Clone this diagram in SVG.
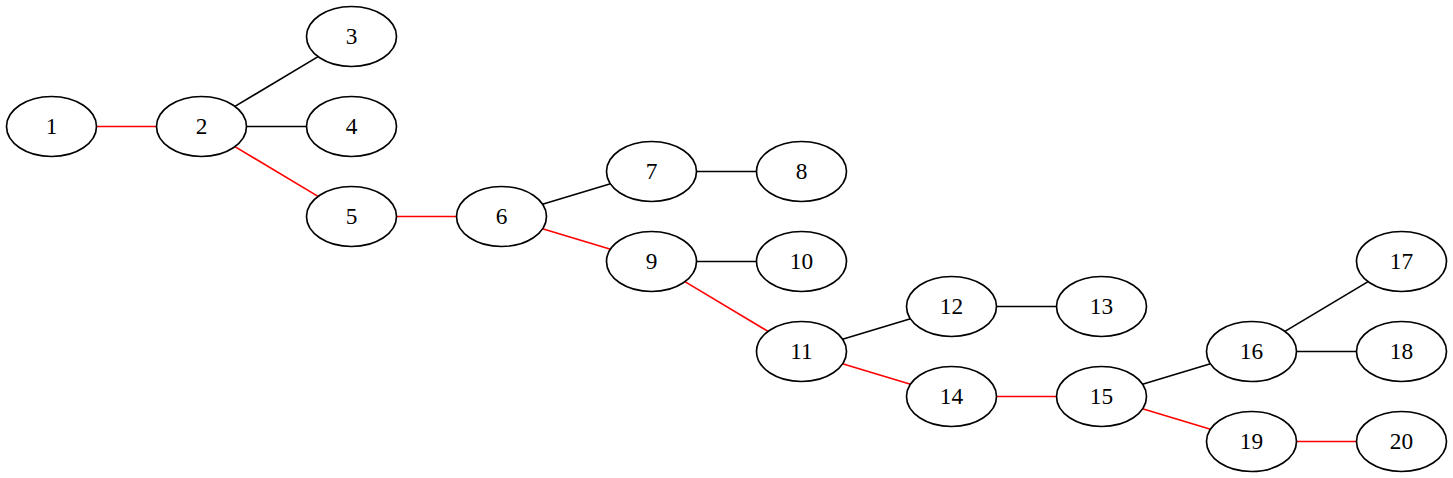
<svg xmlns="http://www.w3.org/2000/svg" width="1453" height="478" viewBox="0 0 1453 478">
<style>
.n ellipse{fill:none;stroke:#000;stroke-width:1.67}
.n text{font-family:"Liberation Serif","Times New Roman",serif;font-size:23.3px;text-anchor:middle;fill:#000}
#edges line{stroke-width:1.67}
.r{stroke:#ff0000}
.b{stroke:#000}
</style>
<rect width="1453" height="478" fill="#fff"/>
<g id="edges">
<line class="r" x1="96.5" y1="126.5" x2="156.5" y2="126.5"/>
<line class="b" x1="234.9" y1="106.4" x2="318.1" y2="56.6"/>
<line class="b" x1="246.5" y1="126.5" x2="306.5" y2="126.5"/>
<line class="r" x1="234.9" y1="146.6" x2="318.1" y2="196.4"/>
<line class="r" x1="396.5" y1="216.5" x2="456.5" y2="216.5"/>
<line class="b" x1="542.5" y1="204.2" x2="610.5" y2="183.8"/>
<line class="r" x1="542.5" y1="228.8" x2="610.5" y2="249.2"/>
<line class="b" x1="696.5" y1="171.5" x2="756.5" y2="171.5"/>
<line class="b" x1="696.5" y1="261.5" x2="756.5" y2="261.5"/>
<line class="r" x1="684.9" y1="281.6" x2="768.1" y2="331.4"/>
<line class="b" x1="842.5" y1="339.2" x2="910.5" y2="318.8"/>
<line class="r" x1="842.5" y1="363.8" x2="910.5" y2="384.2"/>
<line class="b" x1="996.5" y1="306.5" x2="1056.5" y2="306.5"/>
<line class="r" x1="996.5" y1="396.5" x2="1056.5" y2="396.5"/>
<line class="b" x1="1142.5" y1="384.2" x2="1210.5" y2="363.8"/>
<line class="r" x1="1142.5" y1="408.8" x2="1210.5" y2="429.2"/>
<line class="b" x1="1284.9" y1="331.4" x2="1368.1" y2="281.6"/>
<line class="b" x1="1296.5" y1="351.5" x2="1356.5" y2="351.5"/>
<line class="r" x1="1296.5" y1="441.5" x2="1356.5" y2="441.5"/>
</g>
<g id="n1" class="n"><ellipse cx="51.5" cy="126.5" rx="45" ry="30"/><text x="51.5" y="133.5">1</text></g>
<g id="n2" class="n"><ellipse cx="201.5" cy="126.5" rx="45" ry="30"/><text x="201.5" y="133.5">2</text></g>
<g id="n3" class="n"><ellipse cx="351.5" cy="36.5" rx="45" ry="30"/><text x="351.5" y="43.5">3</text></g>
<g id="n4" class="n"><ellipse cx="351.5" cy="126.5" rx="45" ry="30"/><text x="351.5" y="133.5">4</text></g>
<g id="n5" class="n"><ellipse cx="351.5" cy="216.5" rx="45" ry="30"/><text x="351.5" y="223.5">5</text></g>
<g id="n6" class="n"><ellipse cx="501.5" cy="216.5" rx="45" ry="30"/><text x="501.5" y="223.5">6</text></g>
<g id="n7" class="n"><ellipse cx="651.5" cy="171.5" rx="45" ry="30"/><text x="651.5" y="178.5">7</text></g>
<g id="n8" class="n"><ellipse cx="801.5" cy="171.5" rx="45" ry="30"/><text x="801.5" y="178.5">8</text></g>
<g id="n9" class="n"><ellipse cx="651.5" cy="261.5" rx="45" ry="30"/><text x="651.5" y="268.5">9</text></g>
<g id="n10" class="n"><ellipse cx="801.5" cy="261.5" rx="45" ry="30"/><text x="801.5" y="268.5">10</text></g>
<g id="n11" class="n"><ellipse cx="801.5" cy="351.5" rx="45" ry="30"/><text x="801.5" y="358.5">11</text></g>
<g id="n12" class="n"><ellipse cx="951.5" cy="306.5" rx="45" ry="30"/><text x="951.5" y="313.5">12</text></g>
<g id="n13" class="n"><ellipse cx="1101.5" cy="306.5" rx="45" ry="30"/><text x="1101.5" y="313.5">13</text></g>
<g id="n14" class="n"><ellipse cx="951.5" cy="396.5" rx="45" ry="30"/><text x="951.5" y="403.5">14</text></g>
<g id="n15" class="n"><ellipse cx="1101.5" cy="396.5" rx="45" ry="30"/><text x="1101.5" y="403.5">15</text></g>
<g id="n16" class="n"><ellipse cx="1251.5" cy="351.5" rx="45" ry="30"/><text x="1251.5" y="358.5">16</text></g>
<g id="n17" class="n"><ellipse cx="1401.5" cy="261.5" rx="45" ry="30"/><text x="1401.5" y="268.5">17</text></g>
<g id="n18" class="n"><ellipse cx="1401.5" cy="351.5" rx="45" ry="30"/><text x="1401.5" y="358.5">18</text></g>
<g id="n19" class="n"><ellipse cx="1251.5" cy="441.5" rx="45" ry="30"/><text x="1251.5" y="448.5">19</text></g>
<g id="n20" class="n"><ellipse cx="1401.5" cy="441.5" rx="45" ry="30"/><text x="1401.5" y="448.5">20</text></g>
</svg>
